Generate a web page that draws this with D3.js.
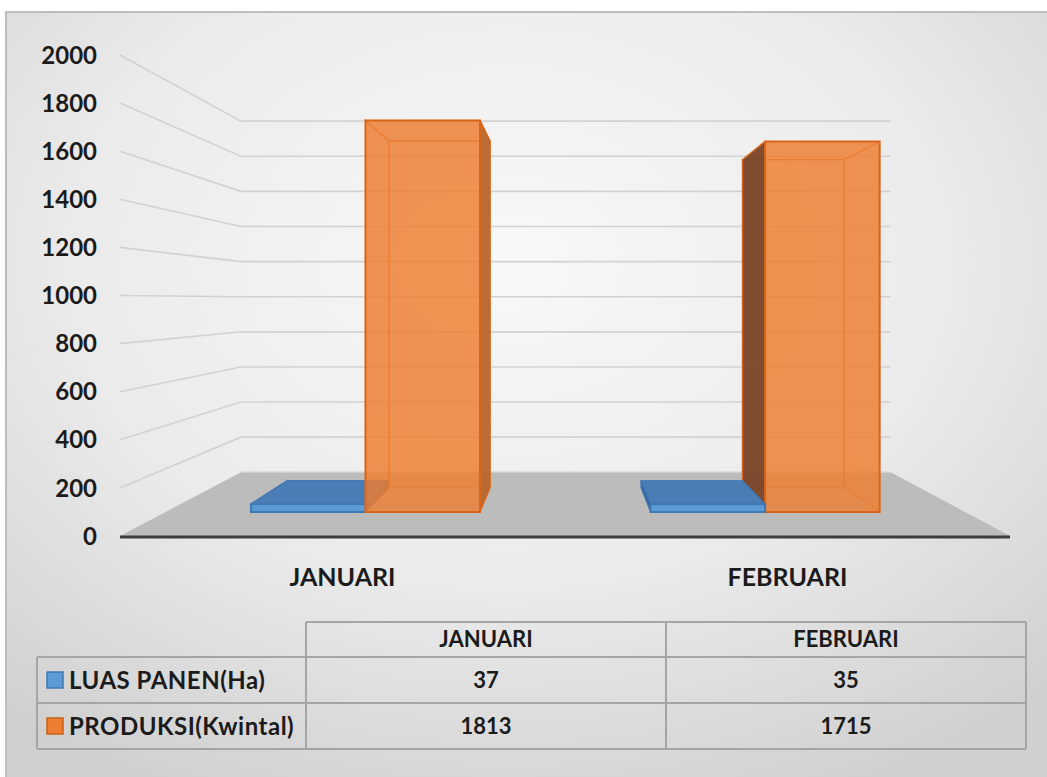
<!DOCTYPE html>
<html>
<head>
<meta charset="utf-8">
<script src="https://cdn.jsdelivr.net/npm/d3@7"></script>
<style>
  html, body { margin: 0; padding: 0; background: #fff; }
  text { font-family: Lato, "Open Sans", sans-serif; font-weight: 700; fill: #1b1b1b; }
</style>
</head>
<body>
<svg id="chart" width="1047" height="777"></svg>
<script>
// datos del gráfico
const categories = ['JANUARI', 'FEBRUARI'];
const seriesNames = ['LUAS PANEN(Ha)', 'PRODUKSI(Kwintal)'];
const luasPanen = [37, 35];
const produksi = [1813, 1715];
const yTicks = [0, 200, 400, 600, 800, 1000, 1200, 1400, 1600, 1800, 2000];
const seriesColors = ['#5B9BD5', '#ED7D31'];

const W = 1047, H = 777;
const svg = d3.select('#chart');

// perspectiva: punto de fuga y profundidades (factor de escala)
const vp = [568, 300];
const sWall = 0.73, sFront = 0.898, sBack = 0.795;
const proj = (X, Y, s) => [vp[0] + (X - vp[0]) * s, vp[1] + (Y - vp[1]) * s];

const y = d3.scaleLinear().domain([0, 2000]).range([536, 55]);
const x = d3.scaleBand().domain(categories).range([120, 1010])
  .paddingInner(0.427).paddingOuter(0.2135);
const xs = d3.scaleBand().domain(seriesNames).range([0, x.bandwidth()]);

// fondo
const defs = svg.append('defs');
const bg = defs.append('radialGradient').attr('id', 'bgGrad')
  .attr('cx', '48%').attr('cy', '32%').attr('r', '75%');
bg.append('stop').attr('offset', '0%').attr('stop-color', '#f8f8f8');
bg.append('stop').attr('offset', '55%').attr('stop-color', '#ebebeb');
bg.append('stop').attr('offset', '100%').attr('stop-color', '#d0d0d0');

svg.append('rect').attr('x', 6).attr('y', 12).attr('width', W).attr('height', H)
  .attr('fill', 'url(#bgGrad)').attr('stroke', '#bdbdbd').attr('stroke-width', 2);

const line = d3.line();
const poly = (pts) => line(pts) + 'Z';

// rejilla: pared del fondo y pared izquierda
const [x0, x1] = x.range();
const grid = svg.append('g');
yTicks.filter(v => v > 0).forEach(v => {
  grid.append('path')
    .attr('d', line([proj(x0, y(v), 1), proj(x0, y(v), sWall), proj(x1, y(v), sWall)]))
    .attr('fill', 'none').attr('stroke', '#d2d2d2').attr('stroke-width', 1.6);
});

// suelo
svg.append('path')
  .attr('d', poly([proj(x0, y(0), 1), proj(x1, y(0), 1), proj(x1, y(0), sWall), proj(x0, y(0), sWall)]))
  .attr('fill', '#bcbcbc');
svg.append('path')
  .attr('d', line([proj(x0, y(0), sWall), proj(x1, y(0), sWall)]))
  .attr('stroke', '#cfcfcf').attr('stroke-width', 1.5);

// eje 0
svg.append('line').attr('x1', x0).attr('x2', x1).attr('y1', y(0) + 1).attr('y2', y(0) + 1)
  .attr('stroke', '#3d3d3d').attr('stroke-width', 3);

// etiquetas del eje Y
svg.append('g').selectAll('text').data(yTicks).join('text')
  .attr('x', 97).attr('y', d => y(d)).attr('dy', '0.36em')
  .attr('text-anchor', 'end').attr('font-size', 24)
  .text(d => d);

// barras 3D
const bars = [];
categories.forEach((c, i) => {
  [luasPanen[i], produksi[i]].forEach((v, k) => {
    const bx0 = x(c) + xs(seriesNames[k]);
    const bx1 = bx0 + xs.bandwidth();
    bars.push({ bx0, bx1, v, k });
  });
});
// primero las más lejanas del punto de fuga
bars.sort((a, b) => Math.abs((b.bx0 + b.bx1) / 2 - vp[0]) - Math.abs((a.bx0 + a.bx1) / 2 - vp[0]));

const gBars = svg.append('g');
bars.forEach(b => {
  const col = d3.color(seriesColors[b.k]);
  const edge = b.k === 0 ? '#3f78b3' : '#d9661b';
  const Yv = y(b.v), yb = y(0);
  const F = (X, Y) => proj(X, Y, sFront);
  const B = (X, Y) => proj(X, Y, sBack);
  const g = gBars.append('g');

  const back = [B(b.bx0, yb), B(b.bx1, yb), B(b.bx1, Yv), B(b.bx0, Yv)];
  const leftSide = [F(b.bx0, yb), B(b.bx0, yb), B(b.bx0, Yv), F(b.bx0, Yv)];
  const rightSide = [F(b.bx1, yb), B(b.bx1, yb), B(b.bx1, Yv), F(b.bx1, Yv)];
  const top = [F(b.bx0, Yv), F(b.bx1, Yv), B(b.bx1, Yv), B(b.bx0, Yv)];
  const front = [F(b.bx0, yb), F(b.bx1, yb), F(b.bx1, Yv), F(b.bx0, Yv)];

  const showRight = F(b.bx1, yb)[0] < vp[0];
  const showLeft = F(b.bx0, yb)[0] > vp[0];
  const showTop = Yv > vp[1];

  // caras ocultas (contorno a través de la transparencia)
  const hidden = [back, showRight ? leftSide : rightSide];
  if (!showTop) hidden.push(top);
  hidden.forEach(p => g.append('path').attr('d', poly(p))
    .attr('fill', b.k === 1 ? col.copy({opacity: 0.15}) : 'none')
    .attr('stroke', edge).attr('stroke-opacity', 0.55).attr('stroke-width', 1.3));

  if (showRight) g.append('path').attr('d', poly(rightSide))
    .attr('fill', b.k === 1 ? '#b8662c' : '#3c6fa6').attr('fill-opacity', 0.95)
    .attr('stroke', edge).attr('stroke-width', 1.3);
  if (showLeft) g.append('path').attr('d', poly(leftSide))
    .attr('fill', b.k === 1 ? '#7a4528' : '#2f5f96').attr('fill-opacity', 0.95)
    .attr('stroke', edge).attr('stroke-width', 1.3);
  if (showTop) g.append('path').attr('d', poly(top))
    .attr('fill', b.k === 1 ? '#e07a36' : '#4a7db6')
    .attr('stroke', edge).attr('stroke-width', 1.3);

  g.append('path').attr('d', poly(front))
    .attr('fill', col.formatHex()).attr('fill-opacity', b.k === 1 ? 0.8 : 1)
    .attr('stroke', edge).attr('stroke-width', 2);
});

// etiquetas de categoría
svg.append('g').selectAll('text').data(categories).join('text')
  .attr('x', d => x(d) + x.bandwidth() / 2).attr('y', 577).attr('dy', '0.36em')
  .attr('text-anchor', 'middle').attr('font-size', 25)
  .text(d => d);

// tabla de datos
const colX = [37, 306, 666, 1026];
const rowY = [622, 657, 703, 749];
const tbl = svg.append('g');
tbl.append('line').attr('x1', colX[1]).attr('x2', colX[3]).attr('y1', rowY[0]).attr('y2', rowY[0]);
[1, 2, 3].forEach(r => tbl.append('line').attr('x1', colX[0]).attr('x2', colX[3]).attr('y1', rowY[r]).attr('y2', rowY[r]));
tbl.append('line').attr('x1', colX[0]).attr('x2', colX[0]).attr('y1', rowY[1]).attr('y2', rowY[3]);
[1, 2, 3].forEach(c => tbl.append('line').attr('x1', colX[c]).attr('x2', colX[c]).attr('y1', rowY[0]).attr('y2', rowY[3]));
tbl.selectAll('line').attr('stroke', '#a5a5a5').attr('stroke-width', 2);

categories.forEach((c, i) => {
  const cx = (colX[i + 1] + colX[i + 2]) / 2;
  tbl.append('text').attr('x', cx).attr('y', (rowY[0] + rowY[1]) / 2).attr('dy', '0.36em')
    .attr('text-anchor', 'middle').attr('font-size', 22).text(c);
  [luasPanen[i], produksi[i]].forEach((v, k) => {
    tbl.append('text').attr('x', cx).attr('y', (rowY[k + 1] + rowY[k + 2]) / 2).attr('dy', '0.36em')
      .attr('text-anchor', 'middle').attr('font-size', 22).text(v);
  });
});
seriesNames.forEach((s, k) => {
  const cy = (rowY[k + 1] + rowY[k + 2]) / 2;
  tbl.append('rect').attr('x', 47).attr('y', cy - 8).attr('width', 16).attr('height', 16)
    .attr('fill', seriesColors[k]).attr('stroke', k === 0 ? '#3f78b3' : '#c85f1a').attr('stroke-width', 1.5);
  tbl.append('text').attr('x', 69).attr('y', cy).attr('dy', '0.36em')
    .attr('font-size', 24).attr('letter-spacing', 0.5).text(s);
});
</script>
</body>
</html>
